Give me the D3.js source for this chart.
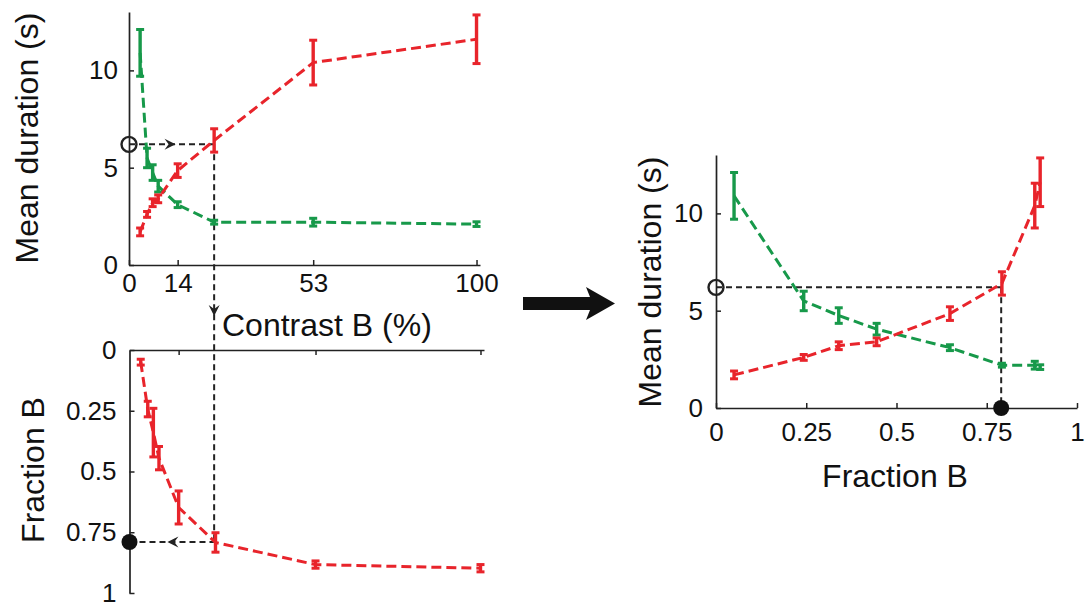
<!DOCTYPE html>
<html>
<head>
<meta charset="utf-8">
<script src="https://cdn.jsdelivr.net/npm/d3@7"></script>
<style>
  html, body { margin: 0; padding: 0; background: #fff; }
  svg { display: block; }
</style>
</head>
<body>
<svg id="chart" width="1087" height="608"></svg>
<script>
// ---------------- data ----------------
const contrast   = [3.2, 5.2, 6.8, 8.4, 14, 24.5, 53, 100];     // Contrast B (%)
const durRed     = [1.7, 2.6, 3.2, 3.4, 4.85, 6.4, 10.4, 11.6]; // mean duration (s), red
const errRed     = [0.2, 0.15, 0.2, 0.2, 0.35, 0.6, 1.15, 1.25];
const durGreen   = [10.9, 5.5, 4.75, 4.05, 3.1, 2.2, 2.2, 2.1]; // mean duration (s), green
const errGreen   = [1.2, 0.5, 0.4, 0.3, 0.15, 0.1, 0.2, 0.12];
const fracB      = [0.05, 0.243, 0.34, 0.445, 0.648, 0.792, 0.883, 0.898]; // fraction B
const errFrac    = [0.012, 0.032, 0.1, 0.048, 0.068, 0.04, 0.015, 0.015];

const contrastTicks = [0, 14, 53, 100];
const durationTicks = [0, 5, 10];
const fractionTicks = [0, 0.25, 0.5, 0.75, 1];

const refDuration = 6.2;   // open circle
const refContrast = 24.5;  // dashed vertical
const refFraction = 0.79;  // filled circle

// ---------------- style ----------------
const RED = "#e8242b", GREEN = "#17994a", INK = "#222";
const FONT = "'Liberation Sans', Arial, Helvetica, sans-serif";

const svg = d3.select("#chart");
svg.append("rect").attr("width", 1087).attr("height", 608).attr("fill", "#fff");

// ---------------- scales ----------------
const xA = d3.scaleLinear([0, 101], [129, 480]);
const yA = d3.scaleLinear([0, 13], [265, 12]);
const xC = d3.scaleLinear([0, 101], [129.5, 484]);
const yC = d3.scaleLinear([0, 1], [350, 593]);
const xR = d3.scaleLinear([0, 1], [716, 1077]);
const yR = d3.scaleLinear([0, 13], [408, 155]);

function styleAxis(g, fs) {
  g.attr("font-size", fs).attr("font-family", FONT);
  g.selectAll("path.domain").attr("stroke", INK).attr("stroke-width", 1.7);
  g.selectAll(".tick line").attr("stroke", INK).attr("stroke-width", 1.5);
  g.selectAll(".tick text").attr("fill", "#111");
}
const fmt = d => String(d);

// Panel A axes
svg.append("g").attr("transform", "translate(" + xA(0) + ",0)")
  .call(d3.axisLeft(yA).tickValues(durationTicks).tickFormat(fmt).tickSizeInner(-5).tickSizeOuter(0).tickPadding(11))
  .call(g => styleAxis(g, 26));
svg.append("g").attr("transform", "translate(0," + yA(0) + ")")
  .call(d3.axisBottom(xA).tickValues(contrastTicks).tickFormat(fmt).tickSizeInner(-5).tickSizeOuter(0).tickPadding(9))
  .call(g => styleAxis(g, 26));

// Panel C axes
svg.append("g").attr("transform", "translate(" + xC(0) + ",0)")
  .call(d3.axisLeft(yC).tickValues(fractionTicks).tickFormat(fmt).tickSizeInner(-5).tickSizeOuter(0).tickPadding(13))
  .call(g => styleAxis(g, 26));
svg.append("g").attr("transform", "translate(0," + yC(0) + ")")
  .call(d3.axisTop(xC).tickValues(contrastTicks.slice(1)).tickFormat("").tickSizeInner(-5).tickSizeOuter(0))
  .call(g => styleAxis(g, 26));

// Panel R axes
svg.append("g").attr("transform", "translate(" + xR(0) + ",0)")
  .call(d3.axisLeft(yR).tickValues(durationTicks).tickFormat(fmt).tickSizeInner(-5).tickSizeOuter(0).tickPadding(13))
  .call(g => styleAxis(g, 26));
svg.append("g").attr("transform", "translate(0," + yR(0) + ")")
  .call(d3.axisBottom(xR).tickValues(fractionTicks).tickFormat(fmt).tickSizeInner(-5).tickSizeOuter(0).tickPadding(15))
  .call(g => styleAxis(g, 26));

// ---------------- axis titles ----------------
function label(x, y, rot, txt, anchor) {
  svg.append("text")
    .attr("transform", "translate(" + x + "," + y + ") rotate(" + rot + ")")
    .attr("text-anchor", anchor || "middle")
    .attr("font-family", FONT).attr("font-size", 32).attr("fill", "#111")
    .text(txt);
}
label(38, 138, -90, "Mean duration (s)");
label(44, 470, -90, "Fraction B");
label(222, 336, 0, "Contrast B (%)", "start");
label(661, 282, -90, "Mean duration (s)");
label(895, 487, 0, "Fraction B");

// ---------------- black dashed guide lines ----------------
const guides = svg.append("g").attr("stroke", INK).attr("stroke-width", 2)
  .attr("stroke-dasharray", "6,4").attr("fill", "none");
guides.append("line").attr("x1", xA(0)).attr("y1", yA(refDuration)).attr("x2", xA(refContrast)).attr("y2", yA(refDuration));
guides.append("line").attr("x1", xA(refContrast)).attr("y1", yA(refDuration)).attr("x2", xA(refContrast)).attr("y2", yC(refFraction));
guides.append("line").attr("x1", xC(refContrast)).attr("y1", yC(refFraction)).attr("x2", xC(0)).attr("y2", yC(refFraction));
guides.append("line").attr("x1", xR(0)).attr("y1", yR(refDuration)).attr("x2", xR(refFraction)).attr("y2", yR(refDuration));
guides.append("line").attr("x1", xR(refFraction)).attr("y1", yR(refDuration)).attr("x2", xR(refFraction)).attr("y2", yR(0));

// small notched arrowheads on guides
function arrowHead(x, y, angleDeg) {
  svg.append("path")
    .attr("d", "M0,0 L-11,-5.5 L-7,0 L-11,5.5 Z")
    .attr("transform", "translate(" + x + "," + y + ") rotate(" + angleDeg + ")")
    .attr("fill", INK);
}
arrowHead(xA(13.4), yA(refDuration), 0);
arrowHead(xA(refContrast), 316, 90);
arrowHead(xC(10.8), yC(refFraction), 180);

// ---------------- data marks ----------------
function series(xs, ys, errs, xScale, yScale, color) {
  const g = svg.append("g");
  const pts = xs.map((x, i) => [xScale(x), yScale(ys[i])]);
  g.append("path").attr("d", d3.line()(pts)).attr("fill", "none")
    .attr("stroke", color).attr("stroke-width", 3).attr("stroke-dasharray", "10,5");
  xs.forEach((x, i) => {
    const cx = xScale(x), y1 = yScale(ys[i] - errs[i]), y2 = yScale(ys[i] + errs[i]);
    g.append("line").attr("x1", cx).attr("x2", cx).attr("y1", y1).attr("y2", y2)
      .attr("stroke", color).attr("stroke-width", 3.4);
    [y1, y2].forEach(yy => g.append("line").attr("x1", cx - 4).attr("x2", cx + 4)
      .attr("y1", yy).attr("y2", yy).attr("stroke", color).attr("stroke-width", 3));
  });
}
// Panel A
series(contrast, durGreen, errGreen, xA, yA, GREEN);
series(contrast, durRed, errRed, xA, yA, RED);
// Panel C
series(contrast, fracB, errFrac, xC, yC, RED);
// Panel R
series(fracB, durGreen, errGreen, xR, yR, GREEN);
series(fracB, durRed, errRed, xR, yR, RED);

// ---------------- circles ----------------
svg.append("circle").attr("cx", xA(0)).attr("cy", yA(refDuration)).attr("r", 7.5)
  .attr("fill", "none").attr("stroke", INK).attr("stroke-width", 2.4);
svg.append("circle").attr("cx", xR(0)).attr("cy", yR(refDuration)).attr("r", 7.5)
  .attr("fill", "none").attr("stroke", INK).attr("stroke-width", 2.4);
svg.append("circle").attr("cx", xC(0)).attr("cy", yC(refFraction)).attr("r", 8).attr("fill", "#111");
svg.append("circle").attr("cx", xR(refFraction)).attr("cy", yR(0)).attr("r", 8).attr("fill", "#111");

// ---------------- big arrow between panels ----------------
svg.append("path")
  .attr("d", "M523,297 L590,297 L586,287 L615,303.5 L586,320 L590,310 L523,310 Z")
  .attr("fill", "#111");
</script>
</body>
</html>
